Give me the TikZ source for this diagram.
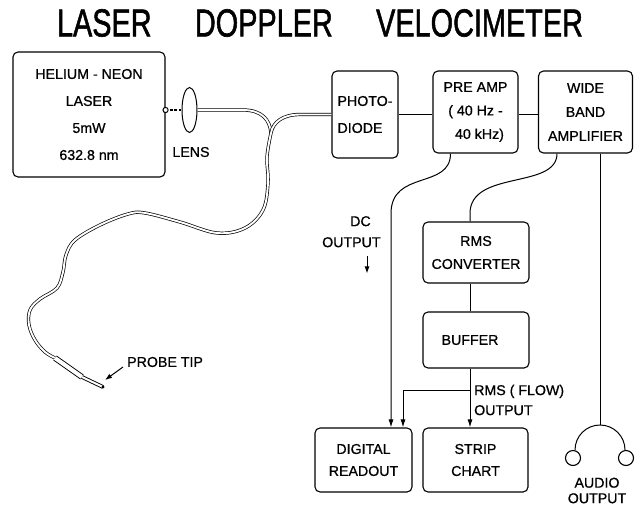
\documentclass[tikz,border=0pt]{standalone}
\usepackage{graphicx}
\usepackage{fontspec}
\setmainfont{Liberation Sans}[FakeBold=0.8]
\newfontfamily\titlefont{Liberation Sans}[FakeBold=1.6]
\usetikzlibrary{calc,arrows.meta,shapes.geometric}
\begin{document}
\begin{tikzpicture}[x=1pt,y=-1pt,
  box/.style={draw,line width=1.1pt,rounded corners=5pt,inner sep=0pt,align=center},
  wire/.style={line width=1pt},
  fiber/.style={draw=black,line width=0.7pt,double=white,double distance=1.9pt},
  arr/.style={-{Latex[length=8pt,width=5pt]}},
  lbl/.style={inner sep=0pt,align=center}
]
\useasboundingbox (0,0) rectangle (635,507);

% title
\node[inner sep=0pt] (title) at (320,23) {\titlefont\fontsize{39}{39}\selectfont\scalebox{0.74}[1]{LASER\hspace{1.5em}DOPPLER\hspace{1.5em}VELOCIMETER}};

% boxes
\node[box,minimum width=152pt,minimum height=125pt,font=\fontsize{14.2}{27}\selectfont] (laser) at (89,114.5) {HELIUM - NEON\\LASER\\5mW\\632.8 nm};
\node[box,align=left,minimum width=66pt,minimum height=87pt,font=\fontsize{14.2}{27}\selectfont] (photo) at (365,114.5) {PHOTO-\\DIODE};
\node[box,minimum width=85pt,minimum height=82pt,font=\fontsize{14.2}{23.5}\selectfont] (preamp) at (475.5,112) {PRE AMP\\( 40 Hz -\\\hspace*{8pt}40 kHz)};
\node[box,minimum width=94pt,minimum height=82pt,font=\fontsize{14.2}{24}\selectfont] (wide) at (585.5,112) {WIDE\\BAND\\AMPLIFIER};
\node[box,minimum width=106pt,minimum height=61pt,font=\fontsize{14.2}{23}\selectfont] (rms) at (476,252.5) {RMS\\CONVERTER};
\node[box,minimum width=106pt,minimum height=56pt,font=\fontsize{14.2}{23}\selectfont] (buffer) at (476,340) {BUFFER\hspace*{12pt}};
\node[box,minimum width=97pt,minimum height=64pt,font=\fontsize{14.2}{22}\selectfont] (digital) at (363.5,460) {DIGITAL\\READOUT};
\node[box,minimum width=105pt,minimum height=64pt,font=\fontsize{14.2}{22}\selectfont] (strip) at (475.5,460) {STRIP\\CHART};

% lens
\node[draw,ellipse,line width=1pt,minimum width=15pt,minimum height=45pt,inner sep=0pt] (lens) at (189.5,110) {};
\node[lbl,font=\fontsize{14.2}{20}\selectfont] (lenslbl) at (191,152) {LENS};
\draw[line width=2.6pt,dash pattern=on 2.6pt off 1.8pt] (laser.east |- lens.center) -- (lens.west);
\draw[line width=1pt,fill=white] (laser.east |- lens.center) circle[radius=2.6pt];

% fiber
\coordinate (junc) at (271,133);
\draw[fiber] (lens.east) -- (243,110) .. controls (262,110) and (270,120) .. (junc);
\draw[fiber] (photo.west) -- (300,114.5) .. controls (283,114.5) and (273,122) .. (junc);
\draw[fiber] plot[smooth,tension=0.6] coordinates {(271,133) (267,157) (268,183) (263,210) (245,228) (217,233) (180,222) (145,213) (128,214) (100,225) (75,240) (66,255) (63,272) (57,288) (40,299) (30,310) (29,325) (35,340) (45,352) (55,358)};
\coordinate (pr0) at (55,358);
\coordinate (pr1) at (82,377);
\coordinate (pr2) at (103,387);
\draw[line width=0.9pt,double=white,double distance=4pt] (pr0) -- (pr1);
\draw[line width=0.9pt,double=white,double distance=2pt] (pr1) -- (pr2);
\fill (pr2) circle[radius=1.6pt];
\node[lbl,anchor=west,font=\fontsize{14.2}{20}\selectfont] (probelbl) at (127,362) {PROBE TIP};
\coordinate (tip) at (105,380);
\draw[line width=1pt,-{Latex[length=7pt,width=5pt]}] ($(probelbl.west)+(-4,5)$) -- (tip);

% wires
\draw[wire] (photo.east) -- (photo.east -| preamp.west);
\draw[wire] (preamp.east |- photo.east) -- (photo.east -| wide.west);

\coordinate (pa) at ($(preamp.south)+(-25,0)$);
\coordinate (d1) at ($(digital.north)+(27.5,0)$);
\coordinate (d2) at ($(digital.north)+(39.5,0)$);
\draw[wire,arr] (pa) .. controls ($(pa)+(0,36)$) and ($(d1|-pa)+(0,16)$) .. ($(d1|-pa)+(0,60)$) -- (d1);

\coordinate (wa) at ($(wide.south)+(-28.5,0)$);
\coordinate (r1) at ($(rms.north)+(-6,0)$);
\draw[wire] (wa) .. controls ($(wa)+(0,36)$) and ($(r1|-wa)+(0,16)$) .. ($(r1|-wa)+(0,60)$) -- (r1);
\draw[wire] (r1 |- rms.south) -- (r1 |- buffer.north);
\coordinate (s1) at ($(strip.north)+(-5.5,0)$);
\draw[wire,arr] (s1 |- buffer.south) -- (s1);
\coordinate (br) at ($(buffer.south)+(-6,22)$);
\draw[wire,arr] (br) -- (br -| d2) -- (d2);

% audio
\coordinate (ha) at (600,425);
\draw[wire] (ha |- wide.south) -- (ha);
\draw[wire] (575,450) arc[start angle=180,end angle=0,radius=25pt];
\node[draw,circle,line width=1.1pt,minimum size=15pt,inner sep=0pt] (earl) at (573,458) {};
\node[draw,circle,line width=1.1pt,minimum size=15pt,inner sep=0pt] (earr) at (626,458) {};
\node[lbl,font=\fontsize{14.2}{15.5}\selectfont] (audiolbl) at (597,490.5) {AUDIO\\OUTPUT};

% labels
\node[lbl,align=left,anchor=north west,font=\fontsize{14.2}{21}\selectfont] (dclbl) at (322,216) {\hspace*{28pt}DC\\OUTPUT};
\draw[line width=1pt,-{Latex[length=7pt,width=5pt]}] (dclbl.south -| 367,0) ++(0,9) -- ++(0,17);
\node[lbl,anchor=west,align=left,font=\fontsize{14.2}{20}\selectfont] (rmslbl) at (474,400) {RMS ( FLOW)\\OUTPUT};
\end{tikzpicture}
\end{document}
